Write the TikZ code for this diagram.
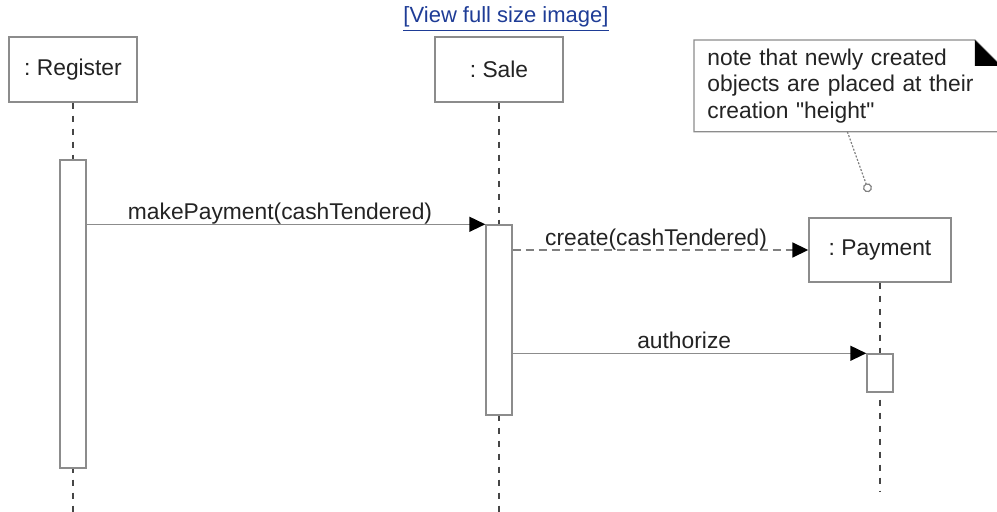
\documentclass[tikz,border=0pt]{standalone}
\usepackage{fontspec}
\setmainfont{Liberation Sans}
\usepackage{tikz}
\usetikzlibrary{arrows.meta}
\usepackage{xcolor}
\definecolor{boxgray}{RGB}{140,140,140}
\definecolor{lifegray}{RGB}{70,70,70}
\definecolor{inkgray}{RGB}{35,35,35}
\definecolor{linkblue}{RGB}{30,60,150}
\frenchspacing

\tikzset{
  umlfont/.style={font=\fontsize{11.4}{13.25}\selectfont, text=inkgray},
  object/.style={umlfont, draw=boxgray, line width=0.7pt, fill=white, minimum width=64pt, minimum height=32.5pt, inner sep=0pt},
  activation/.style={draw=boxgray, line width=0.7pt, fill=white, minimum width=13pt, inner sep=0pt},
  lifeline/.style={draw=lifegray, line width=0.9pt, dash pattern=on 3pt off 3.5pt},
  msg/.style={draw=boxgray, line width=0.75pt, -{Triangle[length=8pt,width=7.5pt,color=black]}},
  createmsg/.style={msg, draw=gray, line width=0.9pt, dash pattern=on 4pt off 2.5pt},
  msglabel/.style={umlfont, above, inner sep=0pt, text depth=2pt, pos=0.485},
  notebox/.style={umlfont, anchor=north west, text width=140pt, inner xsep=6.5pt, inner ysep=0pt, minimum height=45.5pt, align=left},
  notedraw/.style={draw=boxgray, line width=0.7pt},
  noteanchor/.style={draw=gray, line width=0.6pt, dash pattern=on 1pt off 0.8pt, -{Circle[length=4.5pt,fill=white,color=gray]}},
  linktext/.style={font=\fontsize{11}{13}\selectfont, text=linkblue, inner sep=0pt}
}

\begin{document}
\begin{tikzpicture}[x=0.5pt,y=-0.5pt]
\useasboundingbox (0,0) rectangle (997,512);
% Link above the diagram
\node[linktext] (viewlink) at (506,19) {\underline{[View full size image]}};
% Drawing objects
\node[object] (reg) at (73,69.5) {: Register};
\node[object] (sale) at (499,69.5) {: Sale};
\node[object, minimum width=71pt, minimum height=32pt] (pay) at (880,250) {: Payment};
% Lifeline ends
\coordinate (regend) at (73,512);
\coordinate (saleend) at (499,512);
\coordinate (payend) at (880,492);
% Drawing lifelines
\draw[lifeline] (reg.south) -- (regend);
\draw[lifeline] (sale.south) -- (saleend);
\draw[lifeline] (pay.south) -- (payend);
% Drawing activation bars
\node[activation, minimum height=154pt] (regact) at (73,314) {};
\node[activation, minimum height=95pt] (saleact) at (499,320) {};
\node[activation, minimum height=19pt] (payact) at (880,373) {};
% Drawing messages
\draw[msg] (regact.east |- saleact.north west) -- node[msglabel] {makePayment(cashTendered)} (saleact.north west);
\draw[createmsg] (saleact.east |- pay.west) -- node[msglabel] {create(cashTendered)} (pay.west);
\draw[msg] (saleact.east |- payact.north west) -- node[msglabel] {authorize} (payact.north west);
% Drawing the note
\node[notebox] (note) at (694,40) {note that newly created\\objects are placed at their\\creation \textquotedbl height\textquotedbl};
\draw[notedraw] (note.north west) -- ([xshift=-13pt]note.north east) -- ([yshift=-13pt]note.north east) -- (note.south east) -- (note.south west) -- cycle;
\fill[black] ([xshift=-13pt]note.north east) -- ([xshift=-13pt,yshift=-13pt]note.north east) -- ([yshift=-13pt]note.north east) -- cycle;
\coordinate (notepin) at (869,192);
\draw[noteanchor] (note.south) -- (notepin);
\end{tikzpicture}
\end{document}
